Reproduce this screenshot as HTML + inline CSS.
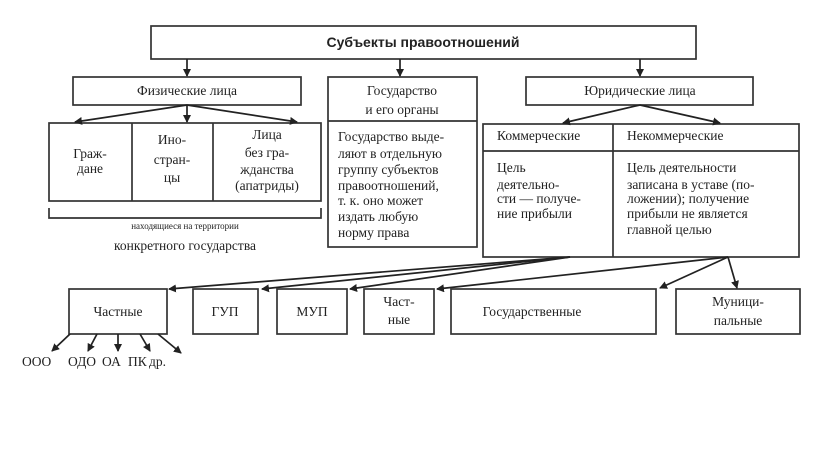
<!DOCTYPE html>
<html><head><meta charset="utf-8"><style>
body{margin:0;background:#fff;width:816px;height:451px;overflow:hidden}
svg text{font-family:"Liberation Serif",serif;font-size:13.5px;fill:#222}
</style></head><body>
<svg width="816" height="451" viewBox="0 0 816 451" xmlns="http://www.w3.org/2000/svg">
<defs><marker id="a" markerWidth="8" markerHeight="8" refX="7" refY="4" orient="auto" markerUnits="userSpaceOnUse"><path d="M0,0 L8,4 L0,8 z" fill="#222"/></marker></defs>
<g fill="none" stroke="#333" stroke-width="1.7">
<rect x="151" y="26" width="545" height="33"/>
<rect x="73" y="77" width="228" height="28"/>
<rect x="49" y="123" width="272" height="78"/>
<line x1="132" y1="123" x2="132" y2="201"/><line x1="213" y1="123" x2="213" y2="201"/>
<path d="M49,208 V218 H321 V208"/>
<rect x="328" y="77" width="149" height="170"/><line x1="328" y1="121" x2="477" y2="121"/>
<rect x="526" y="77" width="227" height="28"/>
<rect x="483" y="124" width="316" height="133"/>
<line x1="613" y1="124" x2="613" y2="257"/><line x1="483" y1="151" x2="799" y2="151"/>
<rect x="69" y="289" width="98" height="45"/>
<rect x="193" y="289" width="65" height="45"/>
<rect x="277" y="289" width="70" height="45"/>
<rect x="364" y="289" width="70" height="45"/>
<rect x="451" y="289" width="205" height="45"/>
<rect x="676" y="289" width="124" height="45"/>
</g>
<g stroke="#222" stroke-width="1.7" marker-end="url(#a)">
<line x1="187" y1="59" x2="187" y2="76"/>
<line x1="400" y1="59" x2="400" y2="76"/>
<line x1="640" y1="59" x2="640" y2="76"/>
<line x1="187" y1="105" x2="75" y2="122"/>
<line x1="187" y1="105" x2="187" y2="122"/>
<line x1="187" y1="105" x2="297" y2="122"/>
<line x1="640" y1="105" x2="563" y2="123"/>
<line x1="640" y1="105" x2="720" y2="123"/>
<line x1="570" y1="257" x2="169" y2="289"/>
<line x1="570" y1="257" x2="262" y2="289"/>
<line x1="570" y1="257" x2="350" y2="289"/>
<line x1="728" y1="257" x2="437" y2="289"/>
<line x1="728" y1="257" x2="660" y2="288"/>
<line x1="728" y1="257" x2="737" y2="288"/>
<line x1="70" y1="334" x2="52" y2="351"/>
<line x1="97" y1="334" x2="88" y2="351"/>
<line x1="118" y1="334" x2="118" y2="351"/>
<line x1="140" y1="334" x2="150" y2="351"/>
<line x1="158" y1="334" x2="181" y2="353"/>
</g>
<text x="423" y="47" text-anchor="middle" style="font-family:'Liberation Sans',sans-serif;font-weight:bold;font-size:14px">Субъекты правоотношений</text>
<text x="187" y="95" text-anchor="middle">Физические лица</text>
<text x="90" y="158" text-anchor="middle">Граж-</text><text x="90" y="173" text-anchor="middle">дане</text>
<text x="172" y="144" text-anchor="middle">Ино-</text><text x="172" y="164" text-anchor="middle">стран-</text><text x="172" y="182" text-anchor="middle">цы</text>
<text x="267" y="139" text-anchor="middle">Лица</text><text x="267" y="157" text-anchor="middle">без гра-</text><text x="267" y="174" text-anchor="middle">жданства</text><text x="267" y="190" text-anchor="middle">(апатриды)</text>
<text x="185" y="229" text-anchor="middle" style="font-size:9px">находящиеся на территории</text>
<text x="185" y="250" text-anchor="middle">конкретного государства</text>
<text x="402" y="95" text-anchor="middle">Государство</text><text x="402" y="114" text-anchor="middle">и его органы</text>
<text x="338" y="141">Государство выде-</text><text x="338" y="158">ляют в отдельную</text><text x="338" y="174">группу субъектов</text><text x="338" y="190">правоотношений,</text><text x="338" y="205">т. к. оно может</text><text x="338" y="221">издать любую</text><text x="338" y="237">норму права</text>
<text x="640" y="95" text-anchor="middle">Юридические лица</text>
<text x="497" y="140">Коммерческие</text><text x="627" y="140">Некоммерческие</text>
<text x="497" y="172">Цель</text><text x="497" y="189">деятельно-</text><text x="497" y="203">сти — получе-</text><text x="497" y="218">ние прибыли</text>
<text x="627" y="172">Цель деятельности</text><text x="627" y="189">записана в уставе (по-</text><text x="627" y="203">ложении); получение</text><text x="627" y="218">прибыли не является</text><text x="627" y="234">главной целью</text>
<text x="118" y="316" text-anchor="middle">Частные</text>
<text x="225" y="316" text-anchor="middle">ГУП</text>
<text x="312" y="316" text-anchor="middle">МУП</text>
<text x="399" y="306" text-anchor="middle">Част-</text><text x="399" y="324" text-anchor="middle">ные</text>
<text x="532" y="316" text-anchor="middle">Государственные</text>
<text x="738" y="306" text-anchor="middle">Муници-</text><text x="738" y="325" text-anchor="middle">пальные</text>
<text x="22" y="366">ООО</text><text x="68" y="366">ОДО</text><text x="102" y="366">ОА</text><text x="128" y="366">ПК</text><text x="149" y="366">др.</text>
</svg>
</body></html>
